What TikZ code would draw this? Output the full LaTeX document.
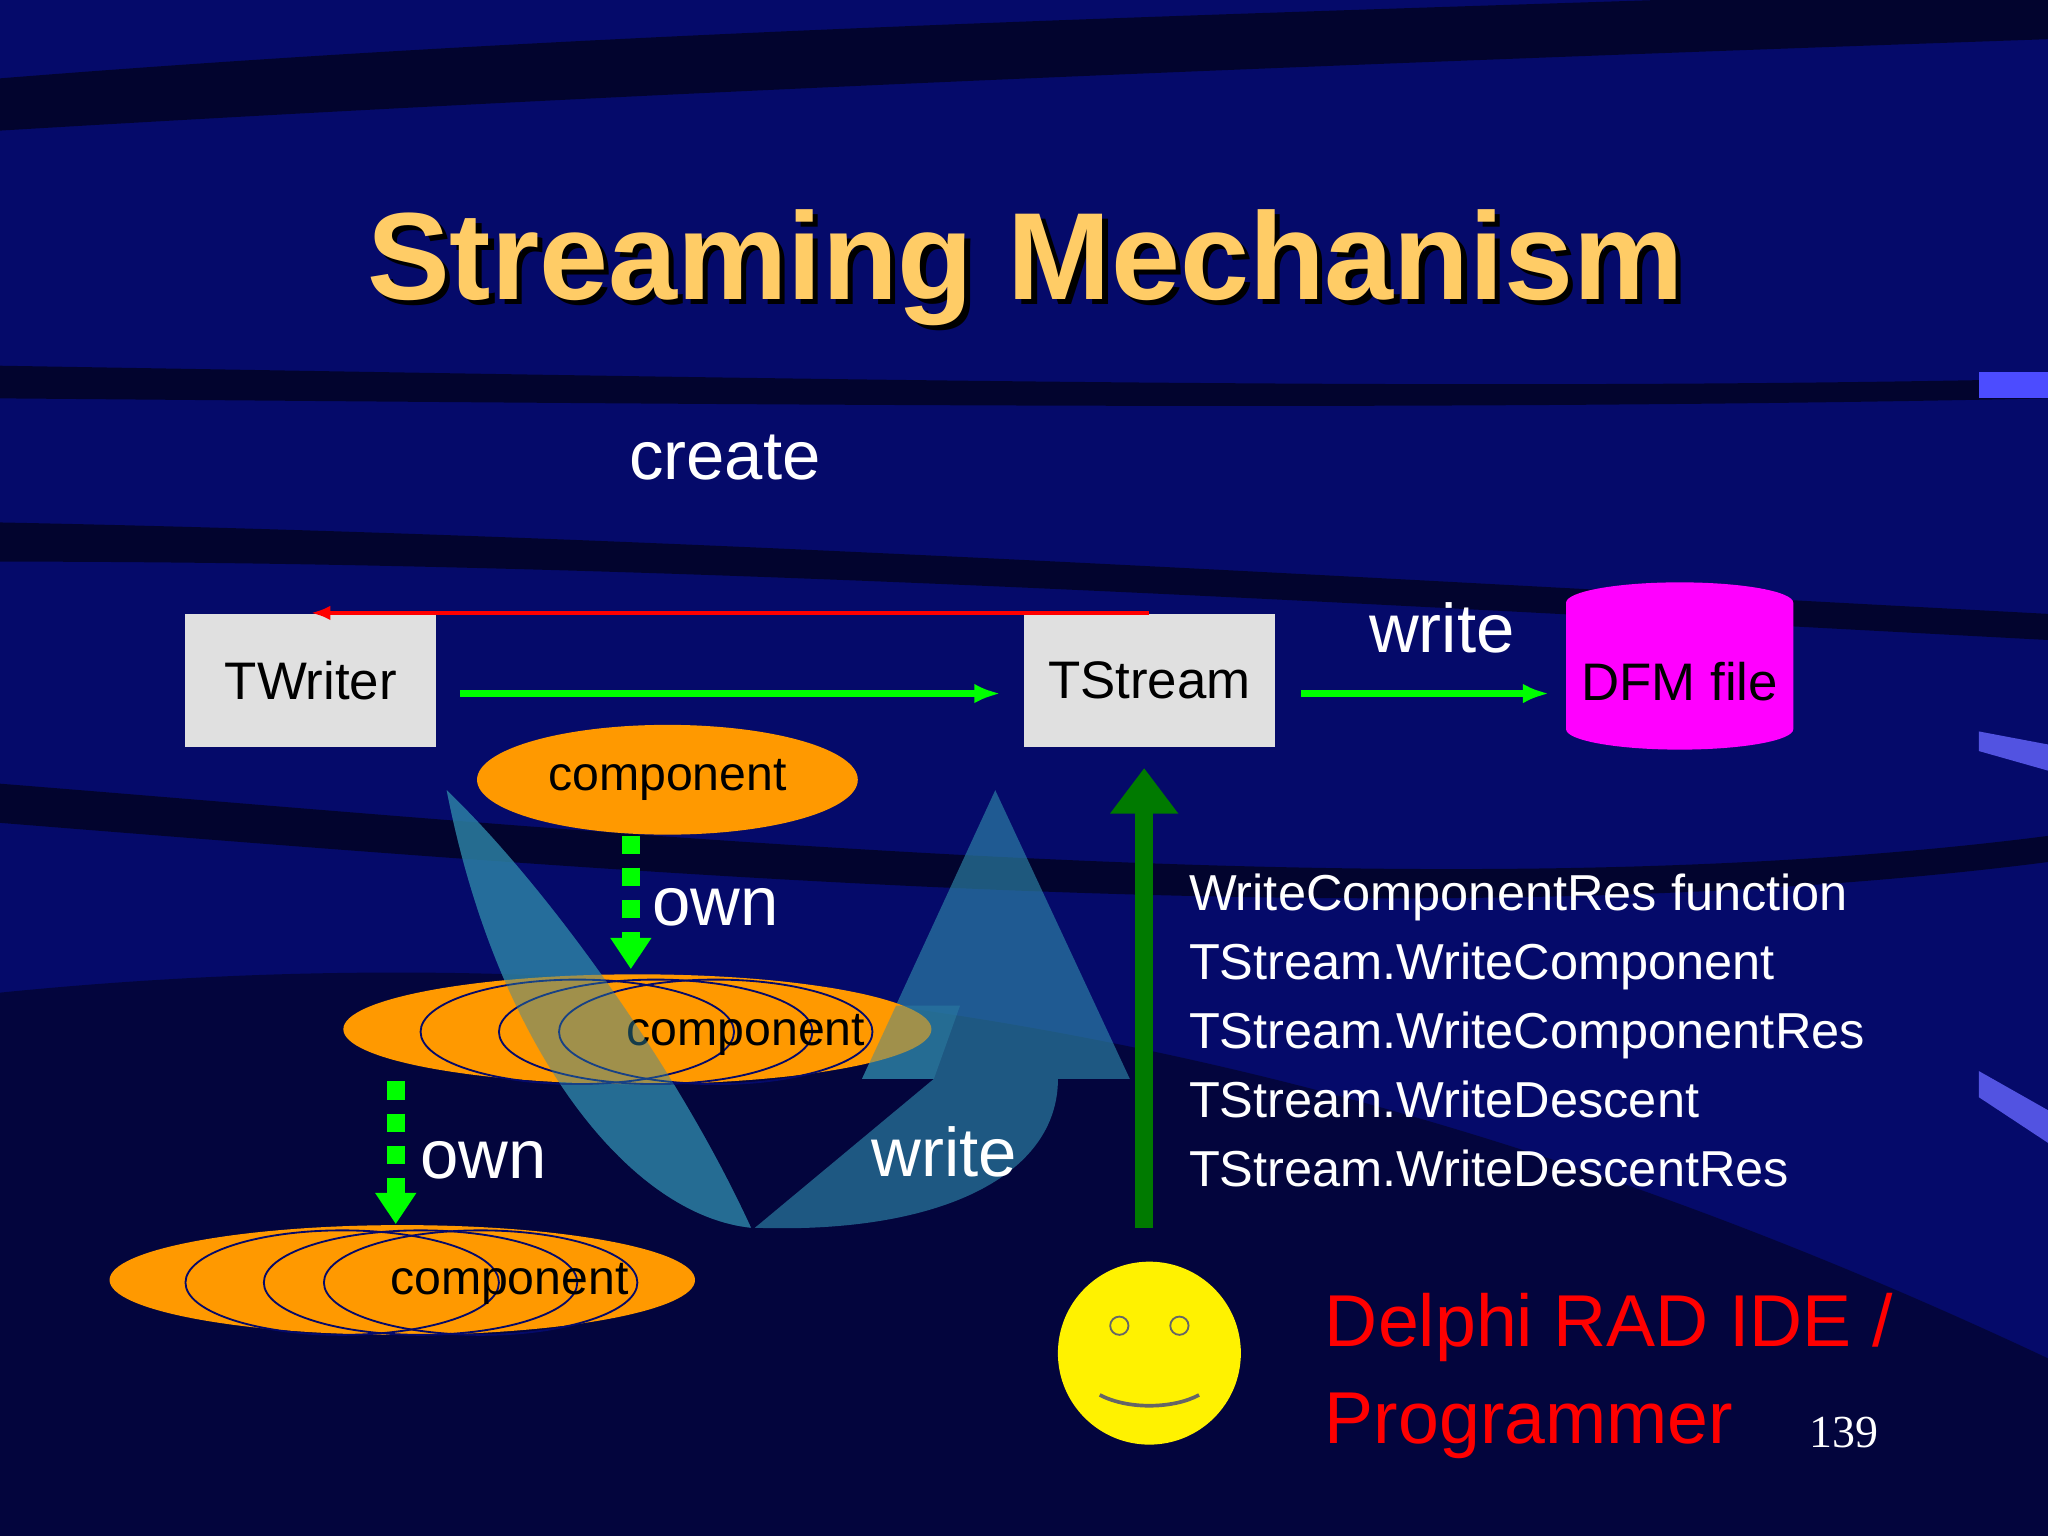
\documentclass[tikz,border=0pt]{standalone}
\usepackage{fontspec}
\setmainfont{Liberation Sans}
\newfontfamily\pagefont{Liberation Serif}
\usetikzlibrary{shapes.geometric,arrows.meta}
\definecolor{bgblue}{HTML}{050A6A}
\definecolor{titlegold}{HTML}{FFCC66}
\definecolor{comporange}{HTML}{FF9900}
\definecolor{boxgray}{HTML}{E0E0E0}
\definecolor{teal}{HTML}{2E86A8}
\definecolor{arrowgreen}{HTML}{00FF00}
\definecolor{darkgreen}{HTML}{007A00}
\definecolor{dfmpink}{HTML}{FF00FF}
\tikzset{
  box/.style={fill=boxgray, minimum width=1.92cm, minimum height=1.02cm, font=\fontsize{11.5}{14}\selectfont},
  comp/.style={ellipse, fill=comporange, font=\fontsize{10.5}{13}\selectfont},
  ring/.style={draw=bgblue, thin},
  flow/.style={-{Latex[length=2mm]}, arrowgreen, line width=1.4pt},
  own/.style={-{Triangle[length=2.4mm,width=3mm]}, arrowgreen, line width=4pt, dash pattern=on 4pt off 3pt},
  label/.style={text=white, font=\fontsize{15}{18}\selectfont},
  listtext/.style={text=white, font=\fontsize{11}{14.5}\selectfont, align=left, anchor=north west}
}
\begin{document}
\begin{tikzpicture}[x=0.01cm, y=-0.01cm]
    % background
    \fill[bgblue] (0,0) rectangle (1568,1176);
    \useasboundingbox (0,0) rectangle (1568,1176);
    \fill[black!70!bgblue, opacity=0.8] (0,60) .. controls (500,20) and (1000,10) .. (1568,-10) -- (1568,30) .. controls (1000,50) and (500,70) .. (0,100) -- cycle;
    \fill[black!70!bgblue, opacity=0.8] (0,280) .. controls (600,290) and (1100,300) .. (1568,290) -- (1568,305) .. controls (1100,315) and (600,310) .. (0,305) -- cycle;
    \fill[black!70!bgblue, opacity=0.8] (0,400) .. controls (500,410) and (1000,440) .. (1568,470) -- (1568,490) .. controls (1000,460) and (500,430) .. (0,430) -- cycle;
    \fill[black!70!bgblue, opacity=0.6] (0,760) .. controls (600,700) and (1100,820) .. (1568,1040) -- (1568,1176) -- (0,1176) -- cycle;
    \fill[black!70!bgblue, opacity=0.8] (0,600) .. controls (500,640) and (1100,700) .. (1568,640) -- (1568,660) .. controls (1100,720) and (500,670) .. (0,630) -- cycle;

    % title
    \node[text=black, font=\bfseries\fontsize{27}{32}\selectfont] at (789,209) {Streaming Mechanism};
    \node (title) [text=titlegold, font=\bfseries\fontsize{27}{32}\selectfont] at (785,205) {Streaming Mechanism};

    \node (create) [label] at (555,350) {create};

    % boxes
    \node (writer) [box] at (238,521) {TWriter};
    \node (stream) [box] at (880,521) {TStream};
    \node (dfm) [cylinder, shape border rotate=90, aspect=0.18, fill=dfmpink, minimum width=1.7cm, minimum height=1.28cm, font=\fontsize{11.5}{14}\selectfont] at (1286,522) {DFM file};

    \coordinate (w1) at (352,531);
    \coordinate (w2) at (766,531);
    \coordinate (s1) at (996,531);
    \coordinate (s2) at (1186,531);
    \draw[-{Latex[length=1.5mm]}, red, line width=1pt] (stream.north) -- (writer.north);
    \draw[flow] (w1) -- (w2);
    \draw[flow] (s1) -- (s2);
    \node (write1) [label] at (1104,481) {write};

    % teal curved arrow
    \fill[teal, opacity=0.65] (342,605) .. controls (380,800) and (480,930) .. (575,940)
        .. controls (520,820) and (420,680) .. cycle;
    \fill[teal, opacity=0.65] (578,940) .. controls (720,945) and (810,900) .. (810,826)
        -- (865,826) -- (762,605) -- (660,826) -- (715,826) -- cycle;

    % components
    \node (c1) [comp, minimum width=2.84cm, minimum height=0.84cm] at (511,597) {component};
    \node (c2) [comp, minimum width=4.5cm, minimum height=0.84cm] at (488,788) {};
    \foreach \cx in {442,502,548} {
        \draw[ring] (\cx,790) ellipse (120 and 40);
    }
    \node (c2t) [font=\fontsize{10.5}{13}\selectfont] at (571,792) {component};
    \node (c3) [comp, minimum width=4.48cm, minimum height=0.84cm] at (308,980) {};
    \foreach \cx in {262,322,368} {
        \draw[ring] (\cx,982) ellipse (120 and 40);
    }
    \node (c3t) [font=\fontsize{10.5}{13}\selectfont] at (390,983) {component};

    \fill[teal, opacity=0.45] (342,605) .. controls (380,800) and (480,930) .. (575,940)
        .. controls (520,820) and (420,680) .. cycle;
    \fill[teal, opacity=0.45] (660,826) -- (686,770) -- (735,770) -- (715,826) -- cycle;

    \draw[own] (c1.south -| 483,0) -- (483,742);
    \node (own1) [label] at (548,695) {own};
    \draw[own] (303,828) -- (c3.north -| 303,0);
    \node (own2) [label] at (370,888) {own};
    \node (write2) [label] at (723,882) {write};

    % programmer
    \node (smile) [circle, fill=yellow, minimum size=1.4cm] at (880,1036) {};
    \draw[black!60] (857,1015) circle (7) (903,1015) circle (7);
    \draw[black!60, thick] (842,1068) .. controls (865,1080) and (900,1078) .. (918,1068);
    \draw[-{Triangle[length=3.5mm,width=5mm]}, darkgreen, line width=4pt] (876,940) -- (876,588);

    \node (calls) [listtext] at (898,657) {WriteComponentRes function\\[0.5pt] TStream.WriteComponent\\[0.5pt] TStream.WriteComponentRes\\[0.5pt] TStream.WriteDescent\\[0.5pt] TStream.WriteDescentRes};
    \node (ide) [text=red, font=\fontsize{16}{21}\selectfont, align=left, anchor=north west] at (1002,978) {Delphi RAD IDE /\\Programmer};
    \node (page) [text=white, font=\pagefont\fontsize{10}{12}\selectfont] at (1412,1097) {139};

    % edge marks
    \fill[blue!70!white] (1515,285) rectangle (1568,305);
    \fill[blue!60!white, opacity=0.8] (1515,560) -- (1568,570) -- (1568,590) -- (1515,575) -- cycle;
    \fill[blue!60!white, opacity=0.8] (1515,820) -- (1568,850) -- (1568,875) -- (1515,840) -- cycle;
\end{tikzpicture}
\end{document}
